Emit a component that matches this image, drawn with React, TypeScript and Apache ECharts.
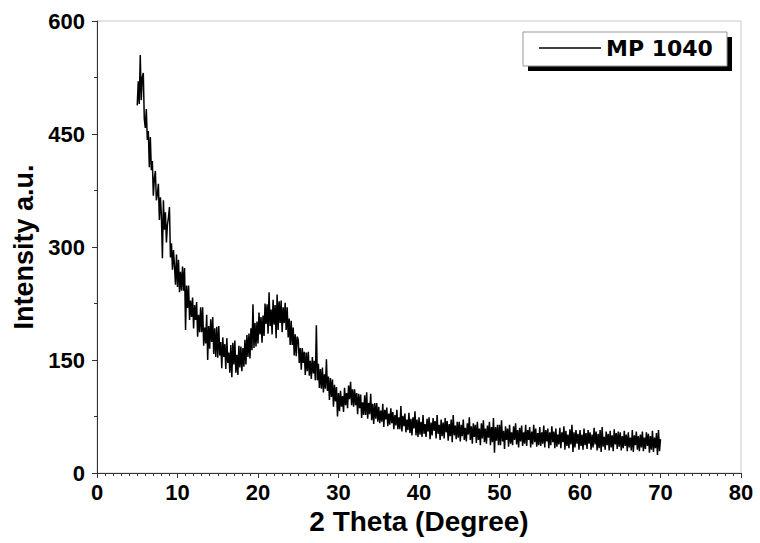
import React, { useEffect, useRef } from "react";
import * as echarts from "echarts";

// 2θ sampling of the pattern (degrees)
const X_START = 5;
const X_STEP = 0.125;

// Intensity values, 5° per block
const seg05 = [488, 520, 490, 555, 495, 525, 531, 470, 458, 483, 442, 454, 406, 446, 402, 414, 368, 391, 401, 362, 370, 384, 336, 366, 342, 285, 362, 323, 346, 306, 330, 339, 353, 286, 305, 270, 296, 275, 250, 290];
const seg10 = [247, 283, 240, 267, 242, 274, 242, 272, 190, 249, 219, 249, 203, 229, 207, 233, 192, 223, 203, 227, 181, 210, 187, 220, 187, 220, 169, 193, 172, 210, 150, 195, 165, 204, 174, 207, 158, 192, 154, 194];
const seg15 = [153, 195, 156, 174, 139, 180, 154, 171, 138, 179, 146, 160, 133, 170, 127, 173, 144, 176, 133, 157, 130, 169, 140, 168, 135, 166, 141, 177, 144, 183, 154, 185, 152, 192, 163, 224, 166, 199, 168, 201];
const seg20 = [172, 213, 184, 207, 173, 209, 182, 225, 198, 224, 185, 240, 195, 217, 184, 230, 197, 223, 179, 237, 190, 228, 199, 229, 187, 220, 199, 226, 190, 220, 180, 205, 170, 202, 170, 193, 156, 184, 155, 181];
const seg25 = [177, 146, 166, 137, 166, 146, 161, 130, 160, 135, 161, 129, 149, 125, 154, 132, 149, 123, 196, 123, 145, 113, 138, 112, 140, 107, 131, 112, 151, 109, 128, 97, 126, 101, 124, 88, 117, 95, 114, 75];
const seg30 = [106, 82, 109, 88, 102, 81, 113, 90, 106, 86, 116, 98, 121, 90, 111, 88, 111, 90, 106, 78, 105, 86, 104, 73, 94, 77, 103, 77, 107, 72, 93, 78, 105, 70, 92, 65, 93, 72, 93, 68];
const seg35 = [88, 66, 83, 68, 92, 61, 84, 71, 87, 62, 79, 64, 86, 66, 81, 58, 77, 63, 84, 58, 74, 58, 89, 55, 76, 62, 79, 54, 71, 57, 80, 53, 72, 50, 74, 59, 82, 50, 71, 48];
const seg40 = [74, 51, 68, 48, 77, 52, 65, 48, 72, 55, 74, 45, 67, 50, 73, 56, 69, 46, 77, 52, 64, 44, 71, 49, 67, 46, 73, 54, 69, 43, 65, 49, 71, 41, 77, 50, 63, 45, 68, 47];
const seg45 = [68, 42, 64, 49, 71, 44, 60, 42, 66, 51, 74, 44, 62, 39, 66, 48, 64, 40, 68, 44, 59, 37, 66, 46, 70, 41, 59, 39, 63, 47, 68, 37, 61, 41, 73, 27, 61, 43, 64, 37];
const seg50 = [64, 37, 70, 42, 56, 32, 62, 44, 59, 35, 64, 39, 54, 37, 62, 44, 66, 38, 57, 34, 60, 42, 63, 36, 54, 39, 64, 36, 57, 44, 61, 34, 55, 38, 64, 41, 59, 35, 53, 37];
const seg55 = [61, 36, 54, 39, 63, 34, 57, 42, 59, 33, 54, 37, 62, 41, 55, 33, 59, 35, 51, 38, 60, 33, 54, 41, 62, 31, 56, 36, 51, 33, 58, 38, 64, 28, 54, 34, 57, 39, 52, 31];
const seg60 = [57, 36, 51, 31, 59, 37, 53, 32, 57, 39, 54, 31, 51, 34, 60, 38, 55, 30, 52, 33, 57, 28, 61, 35, 48, 31, 55, 37, 52, 30, 56, 34, 50, 29, 58, 38, 53, 32, 55, 35];
const seg65 = [54, 30, 49, 33, 56, 36, 51, 29, 54, 34, 47, 30, 57, 28, 50, 37, 55, 31, 49, 29, 51, 34, 55, 29, 47, 32, 54, 36, 52, 27, 49, 31, 56, 28, 47, 33, 53, 24, 57, 29, 45];

const SERIES_NAME = "MP 1040";
const X_TITLE = "2 Theta (Degree)";
const Y_TITLE = "Intensity a.u.";

const FONT = "'Liberation Sans', Arial, sans-serif";

export default function App() {
  const ref = useRef<HTMLDivElement>(null);

  useEffect(() => {
    if (!ref.current) return;
    const chart = echarts.init(ref.current, null, { renderer: "svg" });
    const values = [
      ...seg05, ...seg10, ...seg15, ...seg20, ...seg25, ...seg30, ...seg35,
      ...seg40, ...seg45, ...seg50, ...seg55, ...seg60, ...seg65,
    ];
    const data = values.map((v, i) => [X_START + i * X_STEP, v]);

    chart.setOption({
      animation: false,
      backgroundColor: "#fff",
      grid: {
        left: 97,
        right: 19,
        top: 21,
        bottom: 70,
        show: true,
        borderColor: "#c8c8c8",
        borderWidth: 1,
        backgroundColor: "transparent",
      },
      xAxis: {
        type: "value",
        min: 0,
        max: 80,
        interval: 10,
        axisLine: { show: true, lineStyle: { color: "#333", width: 1 } },
        axisTick: { show: true, inside: false, length: 5, lineStyle: { color: "#333" } },
        minorTick: { show: true, splitNumber: 10, length: 3, lineStyle: { color: "#333" } },
        splitLine: { show: false },
        axisLabel: { color: "#000", fontFamily: FONT, fontWeight: "bold", fontSize: 22, margin: 8 },
        name: X_TITLE,
        nameLocation: "middle",
        nameGap: 31,
        nameTextStyle: { color: "#000", fontFamily: FONT, fontWeight: "bold", fontSize: 28 },
      },
      yAxis: {
        type: "value",
        min: 0,
        max: 600,
        interval: 150,
        axisLine: { show: true, lineStyle: { color: "#333", width: 1 } },
        axisTick: { show: true, inside: false, length: 5, lineStyle: { color: "#333" } },
        minorTick: { show: true, splitNumber: 2, length: 3, lineStyle: { color: "#333" } },
        splitLine: { show: false },
        axisLabel: { color: "#000", fontFamily: FONT, fontWeight: "bold", fontSize: 22, margin: 12 },
        name: Y_TITLE,
        nameLocation: "middle",
        nameGap: 59,
        nameTextStyle: { color: "#000", fontFamily: FONT, fontWeight: "bold", fontSize: 27 },
      },
      legend: {
        show: true,
        data: [SERIES_NAME],
        left: 539,
        top: 37,
        padding: 0,
        icon: "rect",
        itemWidth: 62,
        itemHeight: 1.5,
        selectedMode: false,
        z: 10,
        textStyle: {
          color: "#000",
          fontFamily: "'DejaVu Sans', sans-serif",
          fontWeight: "bold",
          fontSize: 22,
          lineHeight: 22,
        },
      },
      graphic: [
        {
          type: "rect",
          z: 5,
          shape: { x: 528, y: 37, width: 204, height: 34 },
          style: { fill: "#000" },
        },
        {
          type: "rect",
          z: 6,
          shape: { x: 523, y: 32, width: 204, height: 34 },
          style: { fill: "#fff", stroke: "#999", lineWidth: 1 },
        },
      ],
      series: [
        {
          name: SERIES_NAME,
          type: "line",
          data,
          showSymbol: false,
          symbol: "none",
          lineStyle: { color: "#000", width: 1.5 },
          itemStyle: { color: "#000" },
          z: 3,
        },
      ],
    });

    return () => chart.dispose();
  }, []);

  return (
    <div
      ref={ref}
      style={{ position: "absolute", left: 0, top: 0, width: 760, height: 543 }}
    />
  );
}
